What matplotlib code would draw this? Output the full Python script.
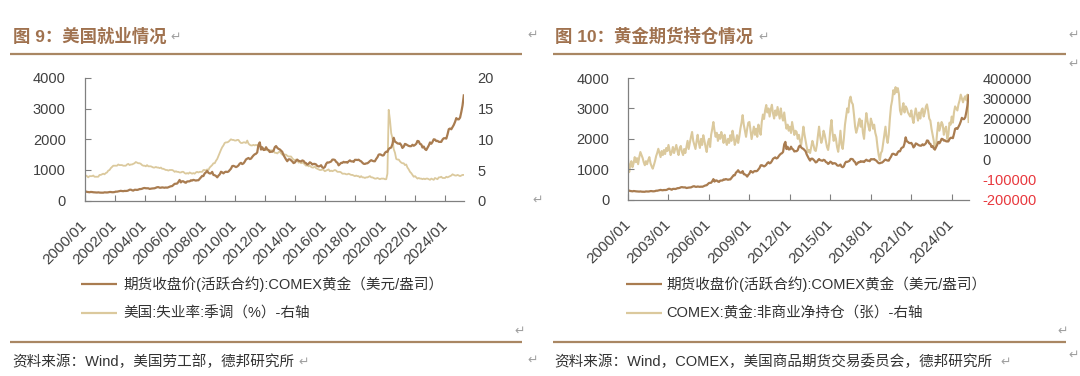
import matplotlib
matplotlib.use('Agg')
import matplotlib.pyplot as plt
from matplotlib.lines import Line2D
import pandas as pd

# ---------------- data (monthly, 2000/01 - 2025/04) ----------------
gold_price = [
    285, 300, 287, 280, 275, 285, 282, 275, 273, 270, 266, 272,          # 2000
    265, 262, 263, 261, 272, 270, 268, 273, 283, 283, 276, 276,          # 2001
    282, 296, 294, 303, 314, 322, 314, 310, 319, 317, 320, 333,          # 2002
    357, 359, 341, 328, 355, 356, 351, 360, 379, 379, 389, 407,          # 2003
    414, 405, 406, 404, 384, 392, 398, 400, 405, 420, 439, 442,          # 2004
    424, 423, 434, 429, 422, 431, 424, 437, 456, 470, 476, 510,          # 2005
    549, 555, 557, 610, 676, 596, 633, 632, 598, 585, 627, 629,          # 2006
    631, 665, 655, 679, 667, 655, 665, 665, 712, 754, 806, 803,          # 2007
    889, 922, 968, 909, 888, 889, 939, 839, 829, 806, 760, 816,          # 2008
    858, 943, 924, 890, 928, 945, 934, 949, 996, 1043, 1127, 1135,       # 2009
    1117, 1095, 1113, 1148, 1205, 1233, 1193, 1215, 1271, 1343, 1370, 1391,  # 2010
    1356, 1372, 1424, 1474, 1510, 1528, 1572, 1820, 1900, 1665, 1739, 1652,  # 2011
    1656, 1742, 1673, 1650, 1585, 1596, 1594, 1630, 1744, 1780, 1721, 1688,  # 2012
    1670, 1627, 1593, 1487, 1414, 1343, 1286, 1347, 1349, 1316, 1275, 1225,  # 2013
    1244, 1300, 1336, 1299, 1288, 1279, 1311, 1296, 1239, 1222, 1176, 1201,  # 2014
    1251, 1227, 1178, 1198, 1199, 1181, 1131, 1117, 1125, 1157, 1086, 1068,  # 2015
    1097, 1199, 1246, 1242, 1260, 1276, 1337, 1340, 1326, 1266, 1236, 1152,  # 2016
    1192, 1234, 1231, 1266, 1246, 1260, 1237, 1283, 1314, 1280, 1283, 1265,  # 2017
    1331, 1331, 1325, 1335, 1303, 1282, 1238, 1202, 1198, 1215, 1220, 1250,  # 2018
    1291, 1320, 1300, 1286, 1284, 1359, 1413, 1500, 1511, 1495, 1471, 1479,  # 2019
    1560, 1597, 1591, 1683, 1715, 1732, 1846, 2050, 1921, 1900, 1866, 1858,  # 2020
    1867, 1808, 1718, 1760, 1850, 1834, 1807, 1785, 1775, 1777, 1822, 1790,  # 2021
    1817, 1856, 1947, 1937, 1849, 1836, 1733, 1765, 1681, 1650, 1726, 1798,  # 2022
    1898, 1855, 1912, 2000, 1992, 1943, 1950, 1918, 1915, 1916, 1992, 2035,  # 2023
    2034, 2023, 2159, 2330, 2350, 2326, 2400, 2470, 2570, 2690, 2650, 2650,  # 2024
    2710, 2900, 3100, 3430,                                                  # 2025
]

unemployment = [
    4.0, 4.1, 4.0, 3.8, 4.0, 4.0, 4.0, 4.1, 3.9, 3.9, 3.9, 3.9,   # 2000
    4.2, 4.2, 4.3, 4.4, 4.3, 4.5, 4.6, 4.9, 5.0, 5.3, 5.5, 5.7,   # 2001
    5.7, 5.7, 5.7, 5.9, 5.8, 5.8, 5.8, 5.7, 5.7, 5.7, 5.9, 6.0,   # 2002
    5.8, 5.9, 5.9, 6.0, 6.1, 6.3, 6.2, 6.1, 6.1, 6.0, 5.8, 5.7,   # 2003
    5.7, 5.6, 5.8, 5.6, 5.6, 5.6, 5.5, 5.4, 5.4, 5.5, 5.4, 5.4,   # 2004
    5.3, 5.4, 5.2, 5.2, 5.1, 5.0, 5.0, 4.9, 5.0, 5.0, 5.0, 4.9,   # 2005
    4.7, 4.8, 4.7, 4.7, 4.6, 4.6, 4.7, 4.7, 4.5, 4.4, 4.5, 4.4,   # 2006
    4.6, 4.5, 4.4, 4.5, 4.4, 4.6, 4.7, 4.6, 4.7, 4.7, 4.7, 5.0,   # 2007
    5.0, 4.9, 5.1, 5.0, 5.4, 5.6, 5.8, 6.1, 6.1, 6.5, 6.8, 7.3,   # 2008
    7.8, 8.3, 8.7, 9.0, 9.4, 9.5, 9.5, 9.6, 9.8, 10.0, 9.9, 9.9,  # 2009
    9.8, 9.8, 9.9, 9.9, 9.6, 9.4, 9.4, 9.5, 9.5, 9.4, 9.8, 9.3,   # 2010
    9.1, 9.0, 9.0, 9.1, 9.0, 9.1, 9.0, 9.0, 9.0, 8.8, 8.6, 8.5,   # 2011
    8.3, 8.3, 8.2, 8.2, 8.2, 8.2, 8.2, 8.1, 7.8, 7.8, 7.7, 7.9,   # 2012
    8.0, 7.7, 7.5, 7.6, 7.5, 7.5, 7.3, 7.2, 7.2, 7.2, 6.9, 6.7,   # 2013
    6.6, 6.7, 6.7, 6.2, 6.3, 6.1, 6.2, 6.1, 5.9, 5.7, 5.8, 5.6,   # 2014
    5.7, 5.5, 5.4, 5.4, 5.6, 5.3, 5.2, 5.1, 5.0, 5.0, 5.1, 5.0,   # 2015
    4.8, 4.9, 5.0, 5.1, 4.8, 4.9, 4.8, 4.9, 5.0, 4.9, 4.7, 4.7,   # 2016
    4.7, 4.6, 4.4, 4.4, 4.4, 4.3, 4.3, 4.4, 4.3, 4.2, 4.2, 4.1,   # 2017
    4.0, 4.1, 4.0, 4.0, 3.8, 4.0, 3.8, 3.8, 3.7, 3.8, 3.8, 3.9,   # 2018
    4.0, 3.8, 3.8, 3.7, 3.6, 3.6, 3.7, 3.6, 3.5, 3.6, 3.6, 3.6,   # 2019
    3.5, 3.5, 4.4, 14.8, 13.2, 11.0, 10.2, 8.4, 7.8, 6.8, 6.7, 6.7,  # 2020
    6.4, 6.2, 6.1, 6.1, 5.8, 5.9, 5.4, 5.1, 4.7, 4.5, 4.2, 3.9,   # 2021
    4.0, 3.8, 3.6, 3.7, 3.6, 3.6, 3.5, 3.6, 3.5, 3.6, 3.6, 3.5,   # 2022
    3.4, 3.6, 3.5, 3.4, 3.7, 3.6, 3.5, 3.8, 3.8, 3.9, 3.7, 3.7,   # 2023
    3.7, 3.9, 3.8, 3.9, 4.0, 4.1, 4.3, 4.2, 4.1, 4.1, 4.2, 4.1,   # 2024
    4.0, 4.1, 4.2, 4.2,                                          # 2025
]

net_position_k = [
    0, -64, -30, -10, -40, -20, 10, -15, 5, -25, 10, 35,          # 2000
    20, 5, -15, -30, -10, -25, -5, 10, -20, -35, -47, -30,        # 2001
    -10, 15, 30, 51, 30, 10, 40, 20, 45, 25, 55, 40,              # 2002
    70, 45, 20, 35, 60, 30, 50, 70, 40, 20, 55, 65,               # 2003
    35, 20, 50, 30, 60, 90, 50, 80, 110, 134, 90, 70,             # 2004
    50, 90, 120, 80, 55, 100, 70, 118, 90, 60, 35, 80,            # 2005
    100, 60, 120, 150, 183, 140, 110, 130, 90, 120, 100, 134,     # 2006
    110, 80, 120, 90, 70, 100, 80, 118, 90, 140, 110, 70,         # 2007
    90, 118, 80, 110, 150, 180, 217, 170, 140, 110, 150, 180,     # 2008
    183, 140, 99, 130, 160, 120, 150, 110, 170, 140, 120, 183,    # 2009
    220, 198, 240, 267, 230, 250, 210, 245, 268, 225, 200, 240,   # 2010
    215, 257, 230, 200, 250, 210, 190, 230, 183, 150, 170, 140,   # 2011
    160, 129, 183, 150, 119, 140, 134, 100, 120, 90, 70, 110,     # 2012
    160, 120, 90, 60, 35, 45, 30, 60, 90, 70, 45, 40,             # 2013
    70, 120, 160, 110, 80, 100, 140, 120, 90, 60, 45, 80,         # 2014
    150, 193, 130, 90, 120, 100, 60, 36, 80, 140, 70, 50,         # 2015
    100, 170, 210, 250, 230, 290, 308, 280, 270, 220, 160, 130,   # 2016
    150, 180, 200, 160, 190, 130, 100, 170, 227, 190, 160, 140,   # 2017
    200, 180, 150, 170, 130, 109, 60, 20, -5, 30, 40, 80,         # 2018
    120, 160, 110, 80, 120, 200, 260, 290, 340, 320, 355, 330,    # 2019
    350, 320, 240, 220, 250, 276, 230, 260, 250, 230, 220, 210,   # 2020
    240, 200, 178, 220, 250, 220, 190, 230, 200, 240, 250, 210,   # 2021
    230, 260, 270, 240, 200, 190, 150, 120, 90, 46, 70, 130,      # 2022
    180, 140, 160, 183, 170, 120, 150, 160, 99, 120, 180, 170,    # 2023
    210, 180, 230, 260, 250, 240, 270, 290, 318, 300, 280, 300,   # 2024
    310, 290, 318, 183,                                           # 2025
]

left_ticks_years = [2000, 2002, 2004, 2006, 2008, 2010, 2012, 2014, 2016, 2018, 2020, 2022, 2024]
right_ticks_years = [2000, 2003, 2006, 2009, 2012, 2015, 2018, 2021, 2024]

title_left = '图 9：美国就业情况'
title_right = '图 10：黄金期货持仓情况'
legend_gold = '期货收盘价(活跃合约):COMEX黄金（美元/盎司）'
legend_unemp = '美国:失业率:季调（%）-右轴'
legend_net = 'COMEX:黄金:非商业净持仓（张）-右轴'
source_left = '资料来源：Wind，美国劳工部，德邦研究所'
source_right = '资料来源：Wind，COMEX，美国商品期货交易委员会，德邦研究所'

# ---------------- style ----------------
GOLD_C = '#a97c50'
BEIGE_C = '#dbc99d'
TITLE_C = '#a0724f'
RULE_C = '#a98763'
TEXT_C = '#333333'
TICK_C = '#404040'
SPINE_C = '#808080'
MARK_C = '#a0a0a0'
FAM = ['Liberation Sans', 'Noto Sans CJK SC', 'DejaVu Sans']

W, H = 1080, 376
fig = plt.figure(figsize=(10.8, 3.76), dpi=100)
fig.patch.set_facecolor('white')


def fx(px):
    return px / W


def fy(py):
    return 1 - py / H


def hline(x0, x1, y, color, lw):
    fig.add_artist(Line2D([fx(x0), fx(x1)], [fy(y), fy(y)], color=color, lw=lw,
                          transform=fig.transFigure, solid_capstyle='butt'))


def ret_mark(x, y, size=9):
    fig.text(fx(x), fy(y), '\u21b5', fontsize=size, color=MARK_C, va='center',
             ha='left', family='DejaVu Sans')


def month_index(n):
    return pd.date_range('2000-01-01', periods=n, freq='MS')


def make_axes(box, ylim_l, yticks_l, ylim_r, yticks_r, rlabels, tick_years, x_end):
    ax = fig.add_axes(box)
    axr = ax.twinx()
    ax.set_zorder(axr.get_zorder() + 1)
    ax.patch.set_visible(False)
    for s in ['top', 'right']:
        ax.spines[s].set_visible(False)
    for s in ['left', 'bottom']:
        ax.spines[s].set_color(SPINE_C)
        ax.spines[s].set_linewidth(0.9)
    for s in axr.spines.values():
        s.set_visible(False)
    ax.set_ylim(*ylim_l)
    ax.set_yticks(yticks_l)
    ax.set_yticklabels([str(v) for v in yticks_l])
    axr.set_ylim(*ylim_r)
    axr.set_yticks(yticks_r)
    axr.set_yticklabels(rlabels)
    ax.tick_params(axis='y', direction='in', length=4, width=0.8, color=SPINE_C,
                   labelsize=10.5, labelcolor=TICK_C, pad=13.5)
    axr.tick_params(axis='y', length=0, labelsize=10.5, labelcolor=TICK_C, pad=10)
    ticks = [pd.Timestamp(f'{y}-01-01') for y in tick_years]
    ax.set_xticks(ticks)
    ax.set_xticklabels([f'{y}/01' for y in tick_years], rotation=45, ha='right',
                       va='center', rotation_mode='anchor')
    ax.tick_params(axis='x', direction='in', length=4, width=0.8, color=SPINE_C,
                   labelsize=11, labelcolor=TICK_C, pad=16)
    ax.set_xlim(pd.Timestamp('2000-01-01'), x_end)
    for lab in ax.get_xticklabels() + ax.get_yticklabels() + axr.get_yticklabels():
        lab.set_family(FAM)
    return ax, axr


# ---------------- left chart ----------------
x_gold = month_index(len(gold_price))
x_unemp = month_index(len(unemployment))
x_net = month_index(len(net_position_k))
x_end = x_gold[-1]

axL, axLr = make_axes([fx(84.5), fy(200.7), fx(463.8 - 84.5), (200.7 - 77.9) / H],
                      (0, 4000), [0, 1000, 2000, 3000, 4000],
                      (0, 20), [0, 5, 10, 15, 20], ['0', '5', '10', '15', '20'],
                      left_ticks_years, x_end)
axLr.plot(x_unemp, unemployment, color=BEIGE_C, lw=1.3)
axL.plot(x_gold, gold_price, color=GOLD_C, lw=1.6)

# ---------------- right chart ----------------
net_vals = [v * 1000 for v in net_position_k]
r_ticks = [-200000, -100000, 0, 100000, 200000, 300000, 400000]
axR, axRr = make_axes([fx(628), fy(199.7), fx(968.6 - 628), (199.7 - 78) / H],
                      (0, 4000), [0, 1000, 2000, 3000, 4000],
                      (-200000, 400000), r_ticks, [str(v) for v in r_ticks],
                      right_ticks_years, x_end)
for lab, v in zip(axRr.get_yticklabels(), r_ticks):
    if v < 0:
        lab.set_color('#e8383d')
axRr.plot(x_net, net_vals, color=BEIGE_C, lw=1.5)
axR.plot(x_gold, gold_price, color=GOLD_C, lw=1.6)

# ---------------- titles, rules, legends, sources ----------------
fig.text(fx(13), fy(36), title_left, fontsize=12.5, fontweight='bold', color=TITLE_C,
         va='center', ha='left', family=FAM)
fig.text(fx(555), fy(36), title_right, fontsize=12.5, fontweight='bold', color=TITLE_C,
         va='center', ha='left', family=FAM)
ret_mark(170, 37)
ret_mark(758, 37)
ret_mark(527, 35)
ret_mark(1068, 35)
ret_mark(1068, 64)
ret_mark(532, 200)

hline(10, 522, 53.8, RULE_C, 1.6)
hline(553, 1066, 53.8, RULE_C, 1.6)
hline(10, 522, 342, RULE_C, 1.6)
hline(553, 1066, 342, RULE_C, 1.6)

# legends
for (x0, x1, xt, rows) in [
    (81, 117, 123, [(legend_gold, GOLD_C), (legend_unemp, BEIGE_C)]),
    (626, 662, 666, [(legend_gold, GOLD_C), (legend_net, BEIGE_C)]),
]:
    for (label, col), y in zip(rows, [284, 313]):
        hline(x0, x1, y, col, 1.6)
        fig.text(fx(xt), fy(y), label, fontsize=10.5, color=TEXT_C, va='center',
                 ha='left', family=FAM)

ret_mark(514, 331)
ret_mark(1057, 331)

fig.text(fx(12), fy(362), source_left, fontsize=10.5, color=TEXT_C, va='center',
         ha='left', family=FAM)
fig.text(fx(554), fy(362), source_right, fontsize=10.5, color=TEXT_C, va='center',
         ha='left', family=FAM)
ret_mark(298, 362)
ret_mark(527, 360)
ret_mark(1000, 362)
ret_mark(1068, 355)

fig.savefig('out.png', dpi=100, facecolor='white')
